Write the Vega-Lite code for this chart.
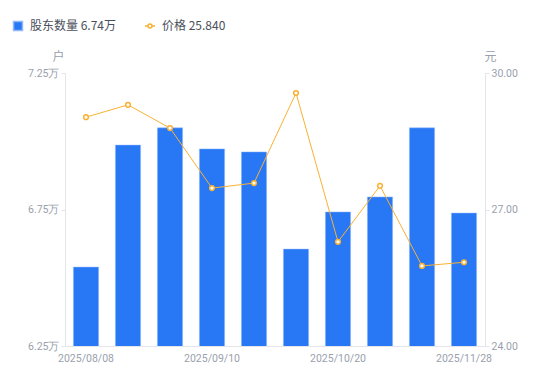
{
  "$schema": "https://vega.github.io/schema/vega-lite/v6.json",
  "autosize": {"type": "none"},
  "width": 420,
  "height": 273,
  "padding": {"left": 65, "top": 73, "right": 65, "bottom": 35},
  "config": {
    "view": {"stroke": null},
    "font": "Roboto",
    "axis": {"labelFont": "Roboto", "titleFont": "Noto Sans CJK SC", "labelColor": "#9a9fae", "titleColor": "#9a9fae", "labelFontSize": 10.5, "titleFontSize": 12, "titleFontWeight": "normal", "domainColor": "#e3e5ea", "tickColor": "#e3e5ea", "grid": false},
    "legend": {"labelFont": "Noto Sans CJK SC", "labelFontSize": 12, "labelColor": "#4a4f5c", "title": null, "orient": "none", "direction": "horizontal", "labelOffset": 6}
  },
  "data": {
    "values": [
      {"date": "2025/08/08", "holders": 6.539, "price": 29.03},
      {"date": "2025/08/20", "holders": 6.986, "price": 29.30},
      {"date": "2025/08/31", "holders": 7.049, "price": 28.79},
      {"date": "2025/09/10", "holders": 6.972, "price": 27.47},
      {"date": "2025/09/19", "holders": 6.961, "price": 27.58},
      {"date": "2025/09/30", "holders": 6.605, "price": 29.56},
      {"date": "2025/10/20", "holders": 6.741, "price": 26.29},
      {"date": "2025/10/31", "holders": 6.796, "price": 27.52},
      {"date": "2025/11/10", "holders": 7.049, "price": 25.76},
      {"date": "2025/11/28", "holders": 6.737, "price": 25.84}
    ]
  },
  "encoding": {
    "x": {
      "field": "date", "type": "ordinal", "sort": null,
      "scale": {"paddingInner": 0.4, "paddingOuter": 0.2},
      "axis": {"title": null, "labelAngle": 0, "ticks": false, "labelPadding": 7, "values": ["2025/08/08", "2025/09/10", "2025/10/20", "2025/11/28"], "zindex": 1}
    }
  },
  "layer": [
    {
      "mark": {"type": "bar", "color": "#2878f5", "stroke": "#8fb8fb", "strokeWidth": 0.5, "clip": true},
      "encoding": {
        "y": {
          "field": "holders", "type": "quantitative",
          "scale": {"domain": [6.25, 7.25], "zero": false, "nice": false},
          "axis": {"title": "户", "titleAngle": 0, "titleX": -7, "titleY": -10, "titleAlign": "center", "values": [6.25, 6.75, 7.25], "labelExpr": "format(datum.value, '.2f') + '万'", "tickSize": 4, "labelPadding": 2}
        },
        "color": {
          "datum": "股东数量", "type": "nominal",
          "scale": {"domain": ["股东数量"], "range": ["#2878f5"]},
          "legend": {
            "legendX": -53, "legendY": -53, "symbolType": "square", "symbolSize": 80,
            "labelExpr": "'股东数量  6.74万'"
          }
        }
      }
    },
    {
      "mark": {"type": "line", "strokeWidth": 1, "point": {"filled": true, "fill": "white", "stroke": "#f9b133", "strokeWidth": 1.5, "size": 22}},
      "encoding": {
        "y": {
          "field": "price", "type": "quantitative",
          "scale": {"domain": [24, 30], "zero": false, "nice": false},
          "axis": {"orient": "right", "title": "元", "titleAngle": 0, "titleX": 5, "titleY": -10, "titleAlign": "center", "values": [24, 27, 30], "format": ".2f", "tickSize": 4, "labelPadding": 2}
        },
        "stroke": {
          "datum": "价格", "type": "nominal",
          "scale": {"domain": ["价格"], "range": ["#f9b133"]},
          "legend": {
            "legendX": 79, "legendY": -53, "symbolType": "M-1,0H-0.4M0.4,0H1M-0.4,0A0.4,0.4 0 1,0 0.4,0A0.4,0.4 0 1,0 -0.4,0", "symbolSize": 100, "symbolStrokeWidth": 1.5, "symbolFillColor": "white",
            "labelExpr": "'价格  25.840'"
          }
        }
      }
    }
  ],
  "resolve": {"scale": {"y": "independent"}}
}
